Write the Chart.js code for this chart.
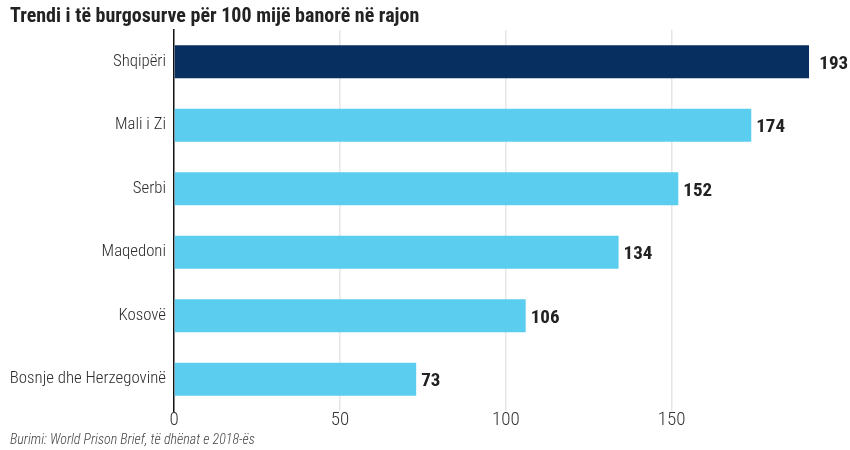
<!DOCTYPE html>
<html>
<head>
<meta charset="utf-8">
<script src="https://cdn.jsdelivr.net/npm/chart.js@4"></script>
<style>
  html, body { margin: 0; padding: 0; background: #fff; }
  #wrap { width: 850px; height: 450px; }
</style>
</head>
<body>
<div id="wrap"><canvas id="prisonChart" width="850" height="450"></canvas></div>
<script>
const countries = ['Shqipëri', 'Mali i Zi', 'Serbi', 'Maqedoni', 'Kosovë', 'Bosnje dhe Herzegovinë'];
const prisoners = [193, 174, 152, 134, 106, 73];
const xTicks = [0, 50, 100, 150];
const titleText = 'Trendi i të burgosurve për 100 mijë banorë në rajon';
const sourceText = 'Burimi: World Prison Brief, të dhënat e 2018-ës';

const fontFamily = "'Roboto Condensed', 'DejaVu Sans Condensed', sans-serif";
const barColors = countries.map((c, i) => i === 0 ? '#072f5f' : '#5bcdee');

// value labels at the end of each bar
const valueLabels = {
  id: 'valueLabels',
  afterDatasetsDraw(chart) {
    const ctx = chart.ctx;
    const meta = chart.getDatasetMeta(0);
    ctx.save();
    ctx.font = `bold 19px ${fontFamily}`;
    ctx.fillStyle = '#222';
    ctx.textAlign = 'left';
    ctx.textBaseline = 'middle';
    meta.data.forEach((bar, i) => {
      ctx.fillText(prisoners[i], bar.x + 5, bar.y + 2);
    });
    ctx.restore();
  }
};

new Chart(document.getElementById('prisonChart'), {
  type: 'bar',
  data: {
    labels: countries,
    datasets: [{
      data: prisoners,
      backgroundColor: barColors,
      borderWidth: 0,
      barPercentage: 0.52,
      categoryPercentage: 1
    }]
  },
  plugins: [valueLabels],
  options: {
    indexAxis: 'y',
    responsive: false,
    animation: false,
    layout: { padding: { left: 10, right: 41, top: 0, bottom: 0 } },
    plugins: {
      legend: { display: false },
      tooltip: { enabled: false },
      title: {
        display: true,
        text: titleText,
        align: 'start',
        color: '#222',
        font: { family: fontFamily, size: 20, weight: 'bold' },
        padding: { top: 5, bottom: 1 }
      },
      subtitle: {
        display: true,
        text: sourceText,
        position: 'bottom',
        align: 'start',
        color: '#444',
        font: { family: fontFamily, size: 14, style: 'italic', weight: 300 },
        padding: { top: 0, bottom: 1 }
      }
    },
    scales: {
      x: {
        min: 0,
        max: 191.4,
        afterBuildTicks: axis => { axis.ticks = xTicks.map(v => ({ value: v })); },
        afterFit: scale => { scale.height = 21.2; },
        grid: {
          color: ctx => ctx.tick && ctx.tick.value === 0 ? 'rgba(0,0,0,0)' : '#e6e6e6',
          lineWidth: 1.5,
          drawTicks: false
        },
        border: { display: false },
        ticks: {
          padding: -2,
          color: '#333',
          font: { family: fontFamily, size: 19, weight: 300 }
        }
      },
      y: {
        afterFit: scale => { scale.width = 164; },
        grid: { display: false, drawTicks: false },
        border: { display: true, color: '#111', width: 1.5 },
        ticks: {
          padding: 8,
          color: '#2a2a2a',
          font: { family: fontFamily, size: 16.8, weight: 300 }
        }
      }
    }
  }
});
</script>
</body>
</html>
